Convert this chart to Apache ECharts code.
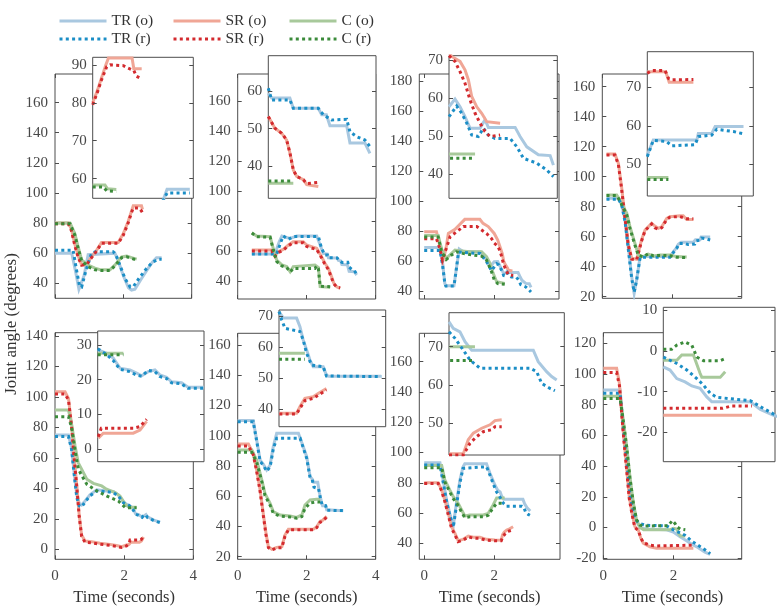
<!DOCTYPE html>
<html><head><meta charset="utf-8">
<script src="https://cdn.jsdelivr.net/npm/echarts@6/dist/echarts.min.js"></script>
<style>html,body{margin:0;padding:0;background:#fff}#c{width:782px;height:613px}</style>
</head><body><div id="c"></div>
<script>
// ---------- tick labels ----------
const xTicksA = [0, 2, 4];
const xTicksB = [0, 2];
const p1_yTicks = [40, 60, 80, 100, 120, 140, 160];
const p2_yTicks = [40, 60, 80, 100, 120, 140, 160];
const p3_yTicks = [40, 60, 80, 100, 120, 140, 160, 180];
const p4_yTicks = [20, 40, 60, 80, 100, 120, 140, 160];
const p5_yTicks = [0, 20, 40, 60, 80, 100, 120, 140];
const p6_yTicks = [20, 40, 60, 80, 100, 120, 140, 160];
const p7_yTicks = [40, 60, 80, 100, 120, 140, 160];
const p8_yTicks = [-20, 0, 20, 40, 60, 80, 100, 120];
const i1_yTicks = [60, 70, 80, 90];
const i2_yTicks = [40, 50, 60];
const i3_yTicks = [40, 50, 60, 70];
const i4_yTicks = [50, 60, 70];
const i5_yTicks = [0, 10, 20, 30];
const i6_yTicks = [40, 50, 60, 70];
const i7_yTicks = [50, 60, 70];
const i8_yTicks = [-20, -10, 0, 10];
const seriesNames = ['TR (o)', 'SR (o)', 'C (o)', 'TR (r)', 'SR (r)', 'C (r)'];

// ---------- panel 1 ----------
const p1_TRo = [[0,60],[0.49,60],[0.6,48],[0.7,36],[0.75,35.5],[0.85,45],[0.97,59],[1.0,60],[1.75,60],[1.85,55],[2.0,45],[2.15,37],[2.24,35.5],[2.34,36],[2.5,42],[2.7,49],[2.85,54],[2.97,57],[3.12,57]];
const p1_TRr = [[0,62],[0.53,62],[0.62,50],[0.72,38],[0.78,37.5],[0.9,48],[1.07,60],[1.2,61],[1.7,61],[1.78,59],[1.9,52],[2.05,43],[2.2,37.5],[2.3,38],[2.45,43],[2.65,49],[2.85,54],[3.05,56],[3.12,56]];
const p1_SRo = [[0,80],[0.39,80],[0.48,76],[0.58,66],[0.68,58],[0.78,52],[0.93,53],[1.07,57.5],[1.22,62],[1.36,67],[1.85,67],[2.0,73],[2.14,81],[2.24,88],[2.29,91.5],[2.53,91.5],[2.56,89],[2.58,89]];
const p1_SRr = [[0,79.5],[0.39,79.5],[0.48,75],[0.58,65],[0.68,57],[0.78,52],[0.93,52.5],[1.07,57],[1.22,61.5],[1.36,66.5],[1.85,66.5],[2.0,72],[2.14,80],[2.24,87],[2.29,90],[2.45,90],[2.53,88],[2.58,86]];
const p1_Co = [[0,80],[0.44,80],[0.58,73],[0.68,64],[0.78,55.5],[0.97,52],[1.17,50],[1.32,49],[1.61,49],[1.75,52],[1.95,57.5],[2.1,58],[2.24,57],[2.39,56]];
const p1_Cr = [[0,79.5],[0.44,79.5],[0.58,72],[0.68,63],[0.78,55],[0.97,51],[1.17,49],[1.32,48.5],[1.61,48.5],[1.75,51.5],[1.95,57],[2.1,57.5],[2.24,56.5],[2.39,55.5]];
const i1_TRo = [[2.9,54],[2.95,57.2],[3.21,57.2]];
const i1_TRr = [[2.9,54],[2.95,56.2],[3.21,56.2]];
const i1_SRo = [[2.1,80],[2.15,83],[2.2,86.5],[2.25,90],[2.28,91.8],[2.55,91.8],[2.57,89],[2.66,89]];
const i1_SRr = [[2.1,79.5],[2.15,82.5],[2.2,86],[2.26,89.5],[2.3,90],[2.45,89.8],[2.5,89.2],[2.57,88.5],[2.6,87],[2.66,86.3]];
const i1_Co = [[2.1,58.3],[2.24,58.3],[2.27,57.3],[2.37,57.1]];
const i1_Cr = [[2.1,57.8],[2.22,57.8],[2.26,56.8],[2.37,56.6]];

// ---------- panel 2 ----------
const p2_TRo = [[0.41,58],[1.08,58],[1.2,66],[1.28,70],[1.42,69],[1.52,68.4],[1.71,70],[2.29,70],[2.39,64],[2.48,58.4],[2.6,58],[2.63,55.5],[2.88,55.4],[2.92,53.7],[2.98,53.5],[3.02,51],[3.18,50.8],[3.23,46.5],[3.38,46.2],[3.45,44]];
const p2_TRr = [[0.41,58],[1.13,58],[1.25,66],[1.32,70],[1.47,67.8],[1.61,69.6],[2.34,69.6],[2.43,61.8],[2.53,57.3],[2.6,57.3],[2.63,55.5],[2.88,55.4],[2.94,53.7],[3.03,52.3],[3.19,52.5],[3.23,49.2],[3.3,47.9],[3.38,47],[3.45,44.5]];
const p2_SRo = [[0.41,60.7],[0.99,60.7],[1.08,57.3],[1.18,59.6],[1.32,61.1],[1.47,64],[1.61,66.2],[1.9,66.2],[2.0,64],[2.14,62.9],[2.29,61.8],[2.43,56.2],[2.53,51.8],[2.63,48.4],[2.72,42.9],[2.79,38.4],[2.87,36.2],[2.97,35]];
const p2_SRr = [[0.41,60],[0.99,60],[1.08,56.5],[1.18,59],[1.32,60.5],[1.47,63.5],[1.61,65.5],[1.9,65.5],[2.0,63],[2.14,62],[2.29,61],[2.43,55.5],[2.53,51],[2.63,47.5],[2.72,42],[2.79,38],[2.87,36],[2.97,35.5]];
const p2_Co = [[0.41,72.2],[0.55,70],[0.94,69.6],[1.03,61.8],[1.13,54],[1.28,50.7],[1.42,49.6],[1.52,46.2],[1.61,49.6],[1.66,50.7],[2.24,50.7],[2.29,51.5],[2.34,49],[2.39,36.2],[2.68,35.8]];
const p2_Cr = [[0.41,72],[0.55,69.5],[0.94,69.2],[1.03,61],[1.13,53],[1.28,50],[1.42,49],[1.52,46],[1.61,48.4],[2.24,48.4],[2.29,50],[2.34,48],[2.39,36.5],[2.68,36.2]];
const i2_TRo = [[2.35,59.4],[2.386,58.1],[2.58,58.1],[2.617,55.4],[2.884,55.4],[2.92,53.7],[2.97,53.7],[3.008,50.8],[3.187,50.8],[3.222,46.2],[3.382,46.2],[3.435,43.5]];
const i2_TRr = [[2.35,60.7],[2.386,57.6],[2.58,57.6],[2.617,55.4],[2.884,55.4],[2.937,53.7],[3.026,52.3],[3.187,52.5],[3.222,49.2],[3.293,47.9],[3.382,47],[3.435,45.3]];
const i2_SRo = [[2.35,53.2],[2.421,50.1],[2.493,48.8],[2.546,47],[2.582,43.5],[2.617,39.1],[2.653,37.4],[2.724,36.5],[2.76,35.2],[2.884,34.7]];
const i2_SRr = [[2.35,53.2],[2.421,50.1],[2.493,48.8],[2.546,47],[2.582,43.5],[2.617,39.1],[2.653,37.4],[2.724,36.5],[2.76,35.5],[2.884,35.8]];
const i2_Co = [[2.35,35.6],[2.617,35.6]];
const i2_Cr = [[2.35,36.2],[2.617,36.2]];

// ---------- panel 3 ----------
const p3_TRo = [[0,69],[0.45,69],[0.52,60],[0.59,45],[0.62,43.5],[0.85,43.5],[0.92,55],[1.0,68],[1.1,66.5],[1.6,66],[1.72,63],[1.88,56.2],[2.0,59.5],[2.1,59.7],[2.2,55],[2.26,52.1],[2.35,52.1],[2.39,54.3],[2.43,52.3],[2.68,52.3],[2.73,49.9],[2.79,47.2],[2.9,45.1],[3.0,44.9],[3.05,42.4]];
const p3_TRr = [[0,67],[0.45,67],[0.52,58],[0.59,45],[0.62,43.3],[0.85,43.3],[0.92,55],[0.98,66],[1.6,65],[1.78,59.6],[1.92,53.6],[2.07,58.2],[2.13,57.5],[2.22,53.4],[2.27,50.3],[2.33,49.9],[2.38,52.1],[2.43,50.3],[2.49,49.4],[2.63,49.4],[2.7,47.2],[2.76,44.2],[2.89,42.9],[2.98,41.1],[3.05,39.4]];
const p3_SRo = [[0,79.6],[0.35,79.6],[0.45,70],[0.54,60.7],[0.62,68],[0.69,78.4],[0.88,81.1],[1.0,84],[1.16,87.8],[1.59,87.8],[1.68,85.1],[1.83,83],[2.0,78.4],[2.1,74],[2.15,70.5],[2.23,65],[2.27,60],[2.32,57.5],[2.36,56],[2.41,53.8],[2.52,53.4]];
const p3_SRr = [[0,74.9],[0.35,74.9],[0.45,68],[0.52,60.7],[0.63,68.4],[0.74,76.2],[0.93,79.6],[1.12,83],[1.5,83],[1.64,80.7],[1.78,78.4],[1.92,75.1],[2.0,72],[2.1,70],[2.16,67],[2.2,64],[2.25,59.5],[2.3,56],[2.35,53.4],[2.39,51.2],[2.44,49.9],[2.54,50.3]];
const p3_Co = [[0,77],[0.4,77],[0.5,68],[0.63,61.8],[0.73,64],[0.88,67.3],[1.0,66.9],[1.3,66.2],[1.64,66.2],[1.78,62.9],[1.88,58.4],[1.97,51.8],[2.07,46.2],[2.3,45.1]];
const p3_Cr = [[0,76],[0.4,76],[0.5,66],[0.63,61],[0.78,64],[0.92,66.2],[1.1,65.1],[1.4,64],[1.64,63.3],[1.78,60.7],[1.92,53.1],[2.0,47.6],[2.1,45],[2.3,44.5]];
const i3_TRo = [[2.05,57.7],[2.107,59.7],[2.155,57.7],[2.202,55.1],[2.25,52.1],[2.345,52.1],[2.393,54.3],[2.424,52.3],[2.679,52.3],[2.726,49.9],[2.79,47.2],[2.9,45.1],[3.012,44.9],[3.043,42.4]];
const i3_TRr = [[2.05,55.1],[2.123,57.9],[2.171,56],[2.219,53.4],[2.266,50.3],[2.329,49.9],[2.377,52.1],[2.424,50.3],[2.488,49.4],[2.631,49.4],[2.695,47.2],[2.758,44.2],[2.885,42.9],[2.98,41.1],[3.043,39.4]];
const i3_SRo = [[2.05,72],[2.076,70.9],[2.155,69.6],[2.202,67.4],[2.234,64.8],[2.266,60.4],[2.314,57.7],[2.361,56],[2.409,53.8],[2.536,53.4]];
const i3_SRr = [[2.05,71.1],[2.107,69.6],[2.155,66.9],[2.202,63.9],[2.25,59.5],[2.298,56],[2.345,53.4],[2.393,51.2],[2.44,49.9],[2.536,50.3]];
const i3_Co = [[2.05,45.3],[2.298,45.3]];
const i3_Cr = [[2.06,44.2],[2.298,44.2]];

// ---------- panel 4 ----------
const p4_TRo = [[0.12,85.6],[0.46,85.6],[0.55,82.2],[0.65,71.1],[0.74,53.3],[0.84,33.3],[0.91,22.2],[0.98,31.1],[1.08,46.7],[1.93,46.7],[2.03,50],[2.1,52],[2.17,55],[2.25,56.3],[2.6,56.3],[2.66,58],[2.79,58],[2.82,59.8],[3.08,59.8]];
const p4_TRr = [[0.12,85],[0.46,85],[0.55,81.5],[0.65,70],[0.74,52],[0.84,32],[0.91,23],[0.98,31],[1.08,46.2],[1.93,46.2],[2.03,49.5],[2.12,52],[2.2,55.5],[2.35,55.5],[2.45,54.8],[2.64,55.1],[2.68,57.2],[2.79,57.6],[2.83,59.1],[2.98,58.5],[3.08,57.8]];
const p4_SRo = [[0.12,115.1],[0.36,115.1],[0.46,108.9],[0.55,93.3],[0.65,73.3],[0.74,55.6],[0.84,45.6],[0.98,44.9],[1.12,57.8],[1.22,64.4],[1.41,68.9],[1.5,67.1],[1.6,65.6],[1.7,66.7],[1.84,72.2],[1.93,73.3],[2.22,74],[2.31,74],[2.41,71.5],[2.6,71.5]];
const p4_SRr = [[0.12,114.5],[0.36,114.5],[0.46,108],[0.55,92],[0.65,72],[0.74,54.5],[0.84,45],[0.98,44.5],[1.12,57],[1.22,64],[1.41,68.5],[1.5,66],[1.6,65],[1.7,66],[1.84,71.5],[1.93,73],[2.2,73.5],[2.41,72],[2.6,72]];
const p4_Co = [[0.12,87.8],[0.41,87.8],[0.5,84.4],[0.6,80],[0.7,75.6],[0.79,66.7],[0.93,55.6],[1.03,47.8],[1.17,46.7],[1.31,48.4],[1.46,47.1],[1.65,47.8],[1.93,47.8],[2.12,46.7],[2.41,46.5]];
const p4_Cr = [[0.12,87.5],[0.41,87.5],[0.5,84],[0.6,79],[0.7,74.5],[0.79,65.5],[0.93,54.5],[1.03,47.5],[1.17,46.5],[1.31,48.6],[1.46,47.3],[1.65,47.5],[1.93,47.3],[2.12,46.3],[2.41,46]];
const i4_TRo = [[2.23,52.4],[2.282,56.3],[2.66,56.3],[2.673,58],[2.79,58],[2.819,59.8],[3.065,59.8]];
const i4_TRr = [[2.23,52],[2.282,56.2],[2.399,55.9],[2.442,54.8],[2.645,55.1],[2.673,57.2],[2.79,57.6],[2.833,59.1],[2.978,58.5],[3.065,57.9]];
const i4_SRo = [[2.23,74],[2.39,74],[2.42,71.3],[2.63,71.3]];
const i4_SRr = [[2.23,73.6],[2.268,74.3],[2.384,74.3],[2.413,72.3],[2.442,71.9],[2.63,72]];
const i4_Co = [[2.23,46.6],[2.413,46.6]];
const i4_Cr = [[2.23,46.1],[2.413,46.1]];

// ---------- panel 5 ----------
const p5_TRo = [[0,75],[0.39,75],[0.48,66.3],[0.55,51],[0.63,35.7],[0.7,30.2],[0.77,29.1],[0.87,31.7],[1.01,35.7],[1.21,39],[1.49,38.3],[1.69,37.9],[1.83,35.7],[1.98,30.9],[2.14,28.6],[2.22,27.6],[2.27,26.2],[2.33,23.3],[2.42,22.8],[2.47,21.9],[2.52,21.1],[2.57,22.3],[2.63,22.8],[2.67,21.4],[2.73,20.7],[2.77,19.4],[2.86,19.1],[2.91,17.8],[3.04,17.8]];
const p5_TRr = [[0,74],[0.39,74],[0.48,65.5],[0.55,50],[0.63,34],[0.7,28.5],[0.77,27.8],[0.87,31],[1.01,35],[1.21,38.3],[1.49,37.8],[1.69,37.2],[1.83,35],[1.98,30.5],[2.14,28.9],[2.22,27.2],[2.27,25.5],[2.33,23],[2.42,22.3],[2.47,21.3],[2.52,21],[2.57,22.7],[2.63,22.3],[2.67,20.9],[2.73,20.3],[2.77,19.1],[2.86,18.8],[2.91,17.5],[3.04,17.5]];
const p5_SRo = [[0,103.5],[0.29,103.5],[0.39,99],[0.48,81.4],[0.55,61.7],[0.63,42.1],[0.7,22.4],[0.77,9.3],[0.87,5.4],[1.06,5],[1.3,3.9],[1.59,3.2],[1.78,2.4],[1.93,1.7],[2.07,2.8],[2.14,3.2],[2.19,4.6],[2.44,4.6],[2.5,5.5],[2.56,8]];
const p5_SRr = [[0,102],[0.29,102],[0.39,98],[0.48,80.5],[0.55,60.5],[0.63,41],[0.7,21.5],[0.77,8.5],[0.87,4.5],[1.06,4.2],[1.3,3.3],[1.59,2.6],[1.78,1.8],[1.93,1.2],[2.07,2.2],[2.14,3.6],[2.17,6],[2.44,6],[2.5,6.5],[2.56,8.6]];
const p5_Co = [[0,91.4],[0.39,91.4],[0.48,82.1],[0.58,67.9],[0.67,56.9],[0.77,52.6],[0.92,46],[1.11,43.3],[1.35,41.6],[1.49,39.4],[1.74,37.2],[1.88,35],[2.03,29.6],[2.14,27.6],[2.36,27.6]];
const p5_Cr = [[0,87],[0.39,87],[0.48,80],[0.58,65],[0.67,53],[0.77,48.5],[0.92,42.7],[1.21,38.3],[1.49,35],[1.83,31.7],[2.03,27.4],[2.14,27.2],[2.36,27.2]];
const i5_TRo = [[2.14,28.6],[2.217,27.6],[2.273,26.2],[2.331,23.3],[2.416,22.8],[2.473,21.9],[2.516,21.1],[2.572,22.3],[2.63,22.8],[2.672,21.4],[2.73,20.7],[2.772,19.4],[2.858,19.1],[2.914,17.8],[3.048,17.8]];
const i5_TRr = [[2.14,28.9],[2.217,27.2],[2.273,25.5],[2.331,23.0],[2.416,22.3],[2.473,21.3],[2.516,21.0],[2.572,22.7],[2.63,22.3],[2.672,20.9],[2.73,20.3],[2.772,19.1],[2.858,18.8],[2.914,17.5],[3.048,17.5]];
const i5_SRo = [[2.145,3.2],[2.188,4.6],[2.444,4.6],[2.502,5.5],[2.559,8]];
const i5_SRr = [[2.145,3.6],[2.17,6],[2.444,6],[2.502,6.5],[2.559,8.6]];
const i5_Co = [[2.14,27.6],[2.36,27.6]];
const i5_Cr = [[2.14,27.2],[2.36,27.2]];

// ---------- panel 6 ----------
const p6_TRo = [[0,110],[0.45,110],[0.55,97.2],[0.65,83.9],[0.74,81.3],[0.84,77.3],[0.94,80.6],[1.03,92.7],[1.13,101.6],[1.76,101.6],[1.9,92.7],[2.0,86.1],[2.1,72.9],[2.16,71.4],[2.2,69.3],[2.32,69.3],[2.37,62.3],[2.43,55.9],[2.46,53.7],[2.55,53.7],[2.58,51],[2.62,50.4],[3.06,50.4]];
const p6_TRr = [[0,109.3],[0.45,109.3],[0.55,96.5],[0.65,83],[0.74,80.5],[0.84,76.5],[0.94,79.5],[1.03,91],[1.13,98.3],[1.81,98.3],[1.9,92],[2.0,85],[2.1,72],[2.16,71],[2.18,68.7],[2.21,66],[2.34,65],[2.37,62.3],[2.4,58],[2.45,54.2],[2.55,53.7],[2.58,50.7],[3.06,50.5]];
const p6_SRo = [[0,94.5],[0.31,94.5],[0.45,88.4],[0.55,77.3],[0.65,64.1],[0.74,48.7],[0.82,35.5],[0.89,26.6],[0.99,24.9],[1.13,26.2],[1.28,26.6],[1.37,34.3],[1.47,38.1],[2.19,38.1],[2.29,39.8],[2.34,40.8],[2.39,43.5],[2.46,44],[2.5,45.1],[2.58,46.7]];
const p6_SRr = [[0,93.2],[0.31,93.2],[0.45,87.5],[0.55,76.5],[0.65,63],[0.74,47.5],[0.82,34.5],[0.89,26],[0.99,24.5],[1.13,25.8],[1.28,26],[1.37,33.5],[1.47,37.8],[2.19,37.8],[2.29,39.2],[2.34,40.3],[2.39,42.8],[2.46,43.5],[2.5,44.5],[2.58,46.2]];
const p6_Co = [[0,90.5],[0.41,90.5],[0.55,83.9],[0.7,70.6],[0.79,61.9],[0.94,55.3],[1.03,49.8],[1.23,47.6],[1.52,46.9],[1.71,46],[1.86,47.6],[1.95,54.2],[2.1,57.5],[2.29,58],[2.39,58]];
const p6_Cr = [[0,89],[0.41,89],[0.55,82.5],[0.7,69.5],[0.79,60.5],[0.94,54],[1.03,48.8],[1.23,46.8],[1.52,46.3],[1.71,45.5],[1.86,46.5],[1.95,52],[2.1,55.5],[2.29,56.2],[2.39,56.1]];
const i6_TRo = [[2.16,71.4],[2.198,69.3],[2.315,69.3],[2.344,66.6],[2.373,62.3],[2.403,59.1],[2.432,55.9],[2.461,53.7],[2.549,53.7],[2.578,51],[2.6,50.6],[3.061,50.6]];
const i6_TRr = [[2.16,71.4],[2.184,68.7],[2.213,66],[2.344,65],[2.373,62.3],[2.403,58],[2.447,54.2],[2.549,53.7],[2.578,50.7],[3.061,50.5]];
const i6_SRo = [[2.163,38.7],[2.315,38.7],[2.344,40.8],[2.388,43.5],[2.461,44],[2.505,45.1],[2.578,46.7]];
const i6_SRr = [[2.163,38.5],[2.315,38.5],[2.344,40.3],[2.388,42.8],[2.461,43.5],[2.505,44.5],[2.578,46.2]];
const i6_Co = [[2.16,58],[2.388,58]];
const i6_Cr = [[2.16,56.1],[2.388,56.1]];

// ---------- panel 7 ----------
const p7_TRo = [[0,93.3],[0.45,93.3],[0.54,81.8],[0.64,68.6],[0.73,59.8],[0.83,51.4],[0.92,66.5],[1.02,81.8],[1.11,90.6],[1.16,92.5],[1.78,92.5],[1.88,86.3],[2.02,78.5],[2.1,75],[2.17,73.9],[2.21,71.3],[2.27,69.1],[2.82,69.1],[2.87,66.1],[2.94,63.5],[2.99,62.2],[3.03,61.3]];
const p7_TRr = [[0,91.8],[0.45,91.8],[0.54,80.5],[0.64,67.5],[0.73,58.5],[0.83,50.5],[0.92,64.5],[1.02,80],[1.11,89.5],[1.16,90.6],[1.78,90.6],[1.88,85],[2.02,76.5],[2.07,73.9],[2.12,72.2],[2.2,69.1],[2.26,66.5],[2.35,64.4],[2.79,64.4],[2.85,63.5],[2.9,60.4],[2.97,59.1],[3.02,58.5]];
const p7_SRo = [[0,80],[0.4,80],[0.5,75.2],[0.59,68.6],[0.69,59.8],[0.78,51],[0.88,46.6],[0.97,41.7],[1.11,42.6],[1.26,44.8],[1.4,44],[1.59,44],[1.78,42.6],[2.02,42.2],[2.2,42],[2.24,45.7],[2.29,47.4],[2.36,48.7],[2.44,49.6],[2.48,50.7],[2.54,50.9]];
const p7_SRr = [[0,79.5],[0.4,79.5],[0.5,74.5],[0.59,67.5],[0.69,58.5],[0.78,50],[0.88,45.5],[0.97,41],[1.11,42],[1.26,44.2],[1.4,43.4],[1.59,43.2],[1.78,42],[2.02,41.7],[2.2,41.7],[2.26,44.8],[2.32,46.5],[2.38,47.8],[2.45,48.3],[2.48,49.1],[2.54,49.1]];
const p7_Co = [[0,91.4],[0.5,91.4],[0.59,81.8],[0.73,75.2],[0.83,70.8],[0.97,66.5],[1.07,62],[1.16,58],[1.3,58.7],[1.69,58.7],[1.83,59.8],[1.97,65.3],[2.07,70],[2.3,70]];
const p7_Cr = [[0,90],[0.5,90],[0.59,80.5],[0.73,74],[0.83,69.5],[0.97,65],[1.07,60.5],[1.16,57],[1.3,57.5],[1.69,57.5],[1.83,58.5],[1.97,63.5],[2.07,66.4],[2.3,66.4]];
const i7_TRo = [[2.07,76.5],[2.108,74.8],[2.168,73.9],[2.213,71.3],[2.273,69.1],[2.823,69.1],[2.867,66.1],[2.942,63.5],[2.987,62.2],[3.032,61.3]];
const i7_TRr = [[2.07,73.9],[2.124,72.2],[2.198,69.1],[2.258,66.5],[2.347,64.4],[2.793,64.4],[2.853,63.5],[2.898,60.4],[2.972,59.1],[3.016,58.5]];
const i7_SRo = [[2.07,42],[2.198,42],[2.242,45.7],[2.287,47.4],[2.362,48.7],[2.436,49.6],[2.481,50.7],[2.541,50.9]];
const i7_SRr = [[2.07,41.7],[2.198,41.7],[2.258,44.8],[2.317,46.5],[2.376,47.8],[2.451,48.3],[2.481,49.1],[2.541,49.1]];
const i7_Co = [[2.07,70],[2.302,70]];
const i7_Cr = [[2.08,66.4],[2.287,66.4]];

// ---------- panel 8 ----------
const p8_TRo = [[0,89.6],[0.48,89.6],[0.57,65.7],[0.67,44],[0.76,22.3],[0.86,9.3],[0.95,3.8],[1.05,0],[1.2,-1],[1.81,-1.5],[2.0,-3],[2.19,-6],[2.33,-8],[2.5,-10.5],[2.7,-13],[2.9,-16],[3.05,-17.5]];
const p8_TRr = [[0,87.4],[0.48,87.4],[0.57,64.5],[0.67,43],[0.76,21.5],[0.86,9.5],[0.95,4.5],[1.05,2.5],[1.2,1.5],[1.81,1],[2.0,-1.5],[2.19,-3.5],[2.33,-5],[2.5,-8.5],[2.7,-11.5],[2.9,-14.5],[3.05,-17]];
const p8_SRo = [[0,103.7],[0.38,103.7],[0.46,94],[0.52,76.6],[0.59,57],[0.67,37.5],[0.74,20.1],[0.82,9.3],[0.9,0.6],[1.0,-1.6],[1.07,-7],[1.14,-10.2],[1.33,-12.5],[1.52,-13.5],[2.57,-13.5]];
const p8_SRr = [[0,100.9],[0.38,100.9],[0.46,92.5],[0.52,75.5],[0.59,56],[0.67,36.5],[0.74,19],[0.82,8.5],[0.9,0],[1.0,-2],[1.07,-6.5],[1.14,-9.8],[1.33,-11.5],[1.52,-12],[2.57,-11.5]];
const p8_Co = [[0,85.5],[0.48,85.5],[0.57,70.1],[0.67,52.7],[0.76,33.1],[0.86,15.8],[0.95,4.9],[1.05,0],[1.15,-1.5],[1.9,-1.5],[2.0,-0.5],[2.1,-1],[2.15,-4],[2.2,-5.5],[2.34,-5.5]];
const p8_Cr = [[0,84],[0.48,84],[0.57,69.5],[0.67,52],[0.76,32.5],[0.86,15.5],[0.95,5],[1.05,1.5],[1.2,1],[1.85,1.2],[1.97,4.5],[2.05,2.5],[2.1,0.5],[2.2,-1],[2.34,-1.5]];
const i8_TRo = [[1.81,-3.9],[1.868,-4.7],[1.926,-6.8],[1.997,-7.6],[2.055,-8.6],[2.126,-9.2],[2.184,-11.3],[2.227,-12.5],[2.557,-12.5],[2.644,-14.4],[2.758,-15.8],[2.8,-16.2]];
const i8_TRr = [[1.81,-1.5],[1.926,-3.1],[2.012,-4.7],[2.098,-6.8],[2.155,-8.4],[2.213,-10.4],[2.27,-11.4],[2.443,-11.9],[2.557,-12.2],[2.644,-13.7],[2.758,-15.5],[2.8,-16]];
const i8_SRo = [[1.81,-15.8],[2.572,-15.8]];
const i8_SRr = [[1.81,-14.1],[2.32,-14.1],[2.4,-13.5],[2.572,-13.5]];
const i8_Co = [[1.81,-2.3],[1.926,-2.3],[1.969,-1],[2.069,-1],[2.126,-5.5],[2.141,-6.5],[2.299,-6.5],[2.342,-5.1]];
const i8_Cr = [[1.81,0.4],[1.882,0.4],[1.926,1.4],[1.997,2.2],[2.055,1.4],[2.098,-1.5],[2.155,-2.4],[2.299,-2.4],[2.342,-1.9]];

// ---------- layout (positions only) ----------
const FONT = 'Liberation Serif';
const EDGE = '#4d4d4d';
const LBL = '#474747';
const STY = {
  'TR (o)': { color: '#a9c8e0', type: 'solid' },
  'SR (o)': { color: '#f0a696', type: 'solid' },
  'C (o)':  { color: '#a8c99b', type: 'solid' },
  'TR (r)': { color: '#1b8ec6', type: [3, 3.3] },
  'SR (r)': { color: '#d32a2e', type: [3, 3.3] },
  'C (r)':  { color: '#3b8b3a', type: [3, 3.3] }
};
const panels = [
  { box:[55,74,136.7,224.3], x:[0,4], y:[30,179], xt:xTicksA, xl:false, yt:p1_yTicks,
    d:[p1_TRo,p1_SRo,p1_Co,p1_TRr,p1_SRr,p1_Cr],
    ibox:[92.7,57.3,100.6,141], ix:[2.1,3.25], iy:[54.8,92.0], iyt:i1_yTicks,
    id:[i1_TRo,i1_SRo,i1_Co,i1_TRr,i1_SRr,i1_Cr] },
  { box:[237.7,74,138,225], x:[0,4], y:[28,178], xt:xTicksA, xl:false, yt:p2_yTicks,
    d:[p2_TRo,p2_SRo,p2_Co,p2_TRr,p2_SRr,p2_Cr],
    ibox:[268.3,55.7,107.7,142.6], ix:[2.35,3.5], iy:[31.6,69.3], iyt:i2_yTicks,
    id:[i2_TRo,i2_SRo,i2_Co,i2_TRr,i2_SRr,i2_Cr] },
  { box:[419.3,74,139.7,225], x:[-0.14,3.85], y:[34.7,184.7], xt:xTicksB, xl:false, yt:p3_yTicks,
    d:[p3_TRo,p3_SRo,p3_Co,p3_TRr,p3_SRr,p3_Cr],
    ibox:[449,55.7,108.3,142.6], ix:[2.05,3.08], iy:[33.7,71.1], iyt:i3_yTicks,
    id:[i3_TRo,i3_SRo,i3_Co,i3_TRr,i3_SRr,i3_Cr] },
  { box:[602.3,74,139.4,224.3], x:[0,3.98], y:[18.9,168.5], xt:xTicksB, xl:false, yt:p4_yTicks,
    d:[p4_TRo,p4_SRo,p4_Co,p4_TRr,p4_SRr,p4_Cr],
    ibox:[647.3,51.7,106,144.3], ix:[2.23,3.15], iy:[41.8,79.2], iyt:i4_yTicks,
    id:[i4_TRo,i4_SRo,i4_Co,i4_TRr,i4_SRr,i4_Cr] },
  { box:[55,332.7,138.3,226.6], x:[0,4], y:[-6.6,142.2], xt:xTicksA, xl:true, yt:p5_yTicks,
    d:[p5_TRo,p5_SRo,p5_Co,p5_TRr,p5_SRr,p5_Cr],
    ibox:[97.7,331,106.3,130.7], ix:[2.14,3.05], iy:[-3.6,34.0], iyt:i5_yTicks,
    id:[i5_TRo,i5_SRo,i5_Co,i5_TRr,i5_SRr,i5_Cr] },
  { box:[237.7,333.3,138,226], x:[0,4], y:[18.3,167.7], xt:xTicksA, xl:true, yt:p6_yTicks,
    d:[p6_TRo,p6_SRo,p6_Co,p6_TRr,p6_SRr,p6_Cr],
    ibox:[279,310,106.7,116.7], ix:[2.16,3.10], iy:[34.4,71.9], iyt:i6_yTicks,
    id:[i6_TRo,i6_SRo,i6_Co,i6_TRr,i6_SRr,i6_Cr] },
  { box:[419.3,333.3,140.7,226], x:[-0.14,3.88], y:[29.4,178.8], xt:xTicksB, xl:true, yt:p7_yTicks,
    d:[p7_TRo,p7_SRo,p7_Co,p7_TRr,p7_SRr,p7_Cr],
    ibox:[449,312.7,115.3,142.3], ix:[2.07,3.10], iy:[41.7,78.9], iyt:i7_yTicks,
    id:[i7_TRo,i7_SRo,i7_Co,i7_TRr,i7_SRr,i7_Cr] },
  { box:[603.3,332.7,138.4,226.6], x:[0,3.95], y:[-20.7,126.9], xt:xTicksB, xl:true, yt:p8_yTicks,
    d:[p8_TRo,p8_SRo,p8_Co,p8_TRr,p8_SRr,p8_Cr],
    ibox:[663.3,307.3,111.7,154.4], ix:[1.81,2.77], iy:[-27.2,10.7], iyt:i8_yTicks,
    id:[i8_TRo,i8_SRo,i8_Co,i8_TRr,i8_SRr,i8_Cr] }
];

const grids = [], xAxes = [], yAxes = [], series = [];
const noLine = { show: false, onZero: false };
function tickCfg(vals) {
  return { show: true, inside: true, length: 4, customValues: vals, lineStyle: { color: EDGE, width: 1 } };
}
function labelCfg(show, vals, margin) {
  return { show: show, customValues: vals, margin: margin, hideOverlap: false, showMinLabel: true, showMaxLabel: true,
    color: LBL, fontFamily: FONT, fontSize: 15 };
}
function addSeries(list, xi, yi, z) {
  list.forEach((data, k) => {
    const nm = seriesNames[k];
    const s = STY[nm];
    series.push({ type: 'line', name: nm, data: data, xAxisIndex: xi, yAxisIndex: yi, z: z,
      symbol: 'none', showSymbol: false, silent: true, animation: false, clip: true,
      lineStyle: { color: s.color, width: 3, type: s.type, cap: 'butt', join: 'miter' },
      itemStyle: { color: s.color } });
  });
}
function gridCfg(b, z) {
  return { left: b[0], top: b[1], width: b[2], height: b[3], show: true, containLabel: false,
    outerBoundsMode: 'none', backgroundColor: '#fff', borderColor: EDGE, borderWidth: 1, z: z };
}
panels.forEach(P => {
  const g = grids.length;
  grids.push(gridCfg(P.box, 0));
  const xb = xAxes.length;
  xAxes.push({ gridIndex: g, type: 'value', position: 'bottom', min: P.x[0], max: P.x[1], z: 1,
    axisLine: noLine, splitLine: { show: false }, axisTick: tickCfg(P.xt),
    axisLabel: labelCfg(P.xl, P.xt, 9),
    name: P.xl ? 'Time (seconds)' : '', nameLocation: 'middle', nameGap: 30,
    nameTextStyle: { fontFamily: FONT, fontSize: 16.5, color: '#333' } });
  xAxes.push({ gridIndex: g, type: 'value', position: 'top', min: P.x[0], max: P.x[1], z: 1,
    axisLine: noLine, splitLine: { show: false }, axisTick: tickCfg(P.xt),
    axisLabel: { show: false } });
  const yl = yAxes.length;
  yAxes.push({ gridIndex: g, type: 'value', position: 'left', min: P.y[0], max: P.y[1], z: 1,
    axisLine: noLine, splitLine: { show: false }, axisTick: tickCfg(P.yt),
    axisLabel: labelCfg(true, P.yt, 7) });
  yAxes.push({ gridIndex: g, type: 'value', position: 'right', min: P.y[0], max: P.y[1], z: 1,
    axisLine: noLine, splitLine: { show: false }, axisTick: tickCfg(P.yt),
    axisLabel: { show: false } });
  addSeries(P.d, xb, yl, 3);

  const gi = grids.length;
  grids.push(gridCfg(P.ibox, 10));
  const xi = xAxes.length;
  xAxes.push({ gridIndex: gi, type: 'value', min: P.ix[0], max: P.ix[1], show: false, axisLine: noLine });
  const yi = yAxes.length;
  yAxes.push({ gridIndex: gi, type: 'value', position: 'left', min: P.iy[0], max: P.iy[1], z: 12,
    axisLine: noLine, splitLine: { show: false }, axisTick: tickCfg(P.iyt),
    axisLabel: labelCfg(true, P.iyt, 6) });
  yAxes.push({ gridIndex: gi, type: 'value', position: 'right', min: P.iy[0], max: P.iy[1], z: 12,
    axisLine: noLine, splitLine: { show: false }, axisTick: tickCfg(P.iyt),
    axisLabel: { show: false } });
  addSeries(P.id, xi, yi, 11);
});

const legendPos = [[58, 13], [172, 13], [288, 13], [58, 31], [172, 31], [288, 31]];
const legends = seriesNames.map((nm, k) => ({
  data: [nm], left: legendPos[k][0], top: legendPos[k][1], itemWidth: 47, itemHeight: 12,
  itemGap: 0, padding: 0, selectedMode: false,
  itemStyle: { opacity: 0, borderWidth: 0 },
  lineStyle: { width: 3 },
  textStyle: { fontFamily: FONT, fontSize: 15.5, color: '#333' }
}));

const chart = echarts.init(document.getElementById('c'), null, { renderer: 'canvas' });
chart.setOption({
  backgroundColor: '#fff',
  animation: false,
  legend: legends,
  grid: grids,
  xAxis: xAxes,
  yAxis: yAxes,
  series: series,
  graphic: [{ type: 'text', x: 12, y: 324, rotation: Math.PI / 2, z: 20,
    style: { text: 'Joint angle (degrees)', font: '17px "Liberation Serif"', fill: '#333',
      align: 'center', verticalAlign: 'middle' } }]
});
</script>
</body></html>
